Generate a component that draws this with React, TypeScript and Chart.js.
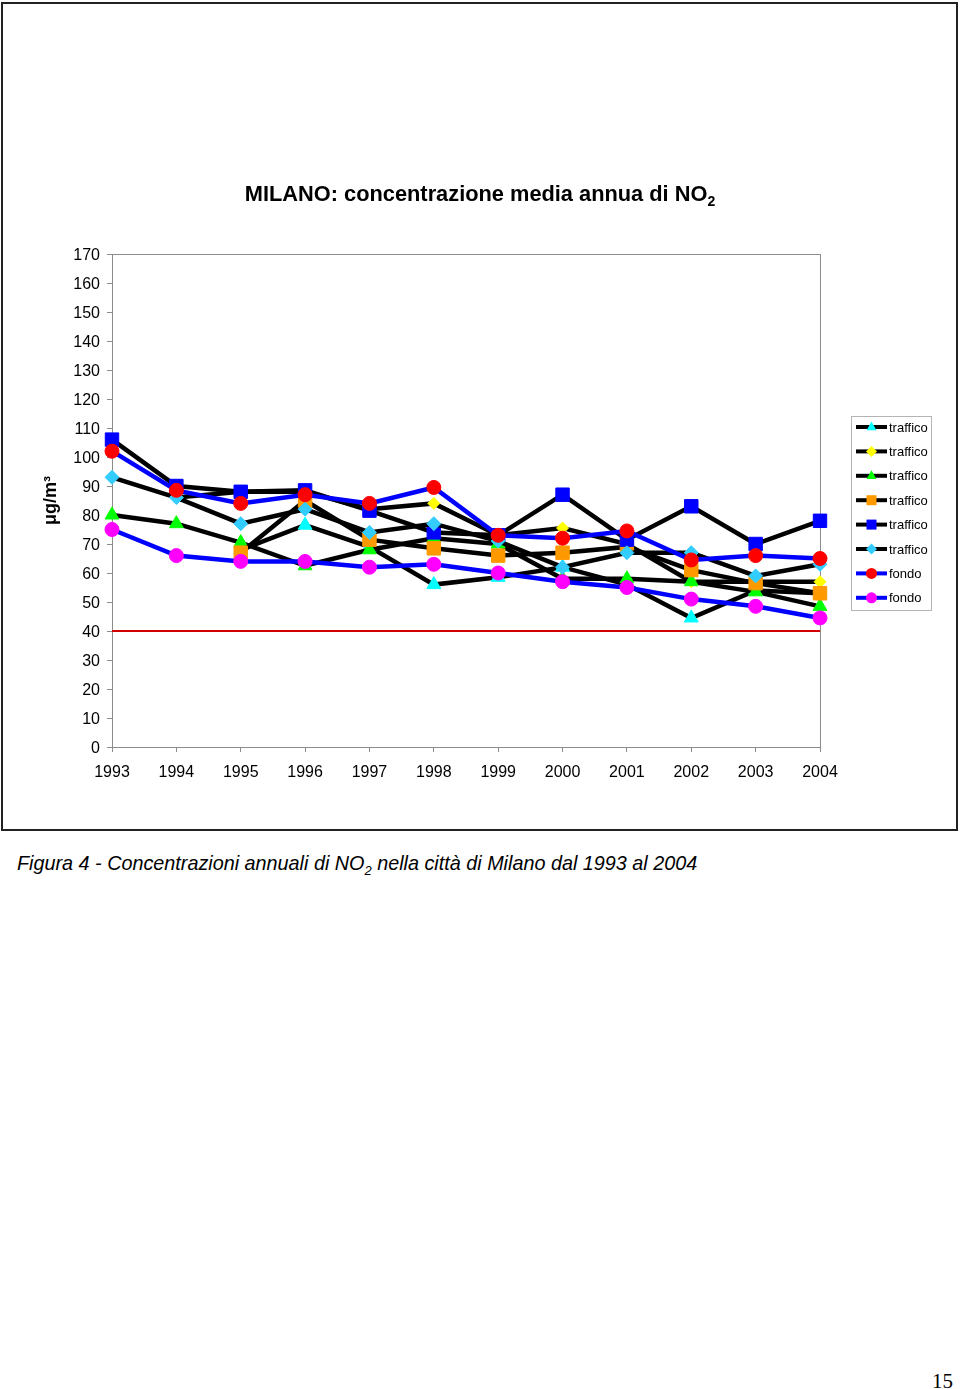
import React, { useEffect, useRef } from 'react';
import { Chart, registerables } from 'chart.js';

Chart.register(...registerables);

const years = ['1993', '1994', '1995', '1996', '1997', '1998', '1999', '2000', '2001', '2002', '2003', '2004'];

const trafficoCyanTriangle = [null, null, 68, 76.5, 69, 56, 58.5, 62, 56, 44.5, 54, 53];
const trafficoYellow = [null, 86, 88, 88, 82, 84, 73, 75.5, 70, 57, 57, 57];
const trafficoGreen = [80, 77, 70.5, 62.5, 68, 72, 70, 58, 58, 57, 53.5, 48.5];
const trafficoOrange = [null, null, 67, 85, 71.5, 68.5, 66, 67, 69, 61, 56.5, 53];
const trafficoBlue = [106, 90, 88, 88.5, 81.5, 74, 73, 87, 71.5, 83, 70, 78];
const trafficoSky = [93, 86, 77, 82, 74, 77, 71, 62, 67, 67, 59, 63];
const fondoRed = [102, 88.5, 84, 87, 84, 89.5, 73, 72, 74.5, 64.5, 66, 65];
const fondoMagenta = [75, 66, 64, 64, 62, 63, 60, 57, 55, 51, 48.5, 44.5];
const limitLine = [40, 40, 40, 40, 40, 40, 40, 40, 40, 40, 40, 40];

const seriesLabels = ['traffico', 'traffico', 'traffico', 'traffico', 'traffico', 'traffico', 'fondo', 'fondo'];

const FONT = '"Liberation Sans", Arial, sans-serif';

function markerPath(ctx: CanvasRenderingContext2D, style: string, x: number, y: number, r: number) {
  ctx.beginPath();
  if (style === 'circle') {
    ctx.arc(x, y, r, 0, Math.PI * 2);
  } else if (style === 'rect') {
    ctx.rect(x - r, y - r, 2 * r, 2 * r);
  } else if (style === 'rectRot') {
    ctx.moveTo(x, y - r);
    ctx.lineTo(x + r, y);
    ctx.lineTo(x, y + r);
    ctx.lineTo(x - r, y);
    ctx.closePath();
  } else if (style === 'triangle') {
    ctx.moveTo(x, y - r);
    ctx.lineTo(x + r * 0.9, y + r * 0.6);
    ctx.lineTo(x - r * 0.9, y + r * 0.6);
    ctx.closePath();
  }
}

const plotBorderPlugin = {
  id: 'plotBorder',
  beforeDatasetsDraw(chart: any) {
    const { ctx, chartArea } = chart;
    ctx.save();
    ctx.strokeStyle = '#8c8c8c';
    ctx.lineWidth = 1;
    ctx.strokeRect(chartArea.left + 0.5, chartArea.top + 0.5, chartArea.right - chartArea.left, chartArea.bottom - chartArea.top);
    ctx.restore();
  },
};

const excelLegendPlugin = {
  id: 'excelLegend',
  afterDraw(chart: any) {
    const { ctx, chartArea } = chart;
    const bx = chartArea.right + 31;
    const by = chartArea.top + 162;
    const bw = 80;
    const bh = 194;
    const step = 24.4;
    ctx.save();
    ctx.fillStyle = '#ffffff';
    ctx.fillRect(bx, by, bw, bh);
    ctx.strokeStyle = '#b4b4b4';
    ctx.lineWidth = 1;
    ctx.strokeRect(bx + 0.5, by + 0.5, bw, bh);
    let row = 0;
    chart.data.datasets.forEach((ds: any) => {
      if (ds.hideInLegend) return;
      const cy = by + 11 + row * step;
      row += 1;
      ctx.strokeStyle = ds.borderColor;
      ctx.lineWidth = 4;
      ctx.lineCap = 'butt';
      ctx.beginPath();
      ctx.moveTo(bx + 5, cy);
      ctx.lineTo(bx + 36, cy);
      ctx.stroke();
      ctx.fillStyle = ds.pointBackgroundColor;
      markerPath(ctx, ds.pointStyle, bx + 20.5, cy, ds.pointStyle === 'rect' ? 5 : 5.5);
      ctx.fill();
      ctx.fillStyle = '#000';
      ctx.font = `13px ${FONT}`;
      ctx.textBaseline = 'middle';
      ctx.textAlign = 'left';
      ctx.fillText(ds.label, bx + 38, cy + 1);
    });
    ctx.restore();
  },
};

function makeSeries(label: string, data: (number | null)[], line: string, marker: string, style: string, radius: number, order: number) {
  return {
    label,
    data,
    borderColor: line,
    backgroundColor: marker,
    pointBackgroundColor: marker,
    pointBorderColor: marker,
    pointBorderWidth: 1,
    pointStyle: style,
    pointRadius: radius,
    borderWidth: 4.5,
    tension: 0,
    spanGaps: false,
    order,
  };
}

function App() {
  const canvasRef = useRef<HTMLCanvasElement | null>(null);

  useEffect(() => {
    document.body.style.margin = '0';
    const canvas = canvasRef.current;
    if (!canvas) return;
    const chart = new Chart(canvas, {
      type: 'line',
      data: {
        labels: years,
        datasets: [
          makeSeries(seriesLabels[0], trafficoCyanTriangle, '#000000', '#00FFFF', 'triangle', 8, 8),
          makeSeries(seriesLabels[1], trafficoYellow, '#000000', '#FFFF00', 'rectRot', 6, 7),
          makeSeries(seriesLabels[2], trafficoGreen, '#000000', '#00FF00', 'triangle', 8, 6),
          makeSeries(seriesLabels[3], trafficoOrange, '#000000', '#FF9900', 'rect', 9.5, 5),
          makeSeries(seriesLabels[4], trafficoBlue, '#000000', '#0000FF', 'rect', 9.5, 4),
          makeSeries(seriesLabels[5], trafficoSky, '#000000', '#33CCFF', 'rectRot', 7, 3),
          makeSeries(seriesLabels[6], fondoRed, '#0000FF', '#FF0000', 'circle', 7, 2),
          makeSeries(seriesLabels[7], fondoMagenta, '#0000FF', '#FF00FF', 'circle', 7, 1),
          {
            label: 'limite',
            data: limitLine,
            borderColor: '#D00000',
            borderWidth: 2,
            pointRadius: 0,
            order: 20,
            hideInLegend: true,
          } as any,
        ],
      },
      options: {
        animation: false,
        responsive: false,
        maintainAspectRatio: false,
        layout: { padding: { left: 40, top: 254, right: 140, bottom: 43 } },
        plugins: {
          legend: { display: false },
          title: { display: false },
          tooltip: { enabled: false },
        },
        scales: {
          x: {
            type: 'category',
            offset: false,
            afterFit: (scale: any) => { scale.height = 40; },
            grid: { display: true, drawOnChartArea: false, drawTicks: true, tickLength: 5, color: '#8c8c8c' },
            border: { display: true, color: '#8c8c8c', width: 1 },
            ticks: { color: '#000', font: { family: FONT, size: 16 }, padding: 11, maxRotation: 0, autoSkip: false },
          },
          y: {
            min: 0,
            max: 170,
            afterFit: (scale: any) => { scale.width = 72; },
            grid: { display: true, drawOnChartArea: false, drawTicks: true, tickLength: 5, color: '#8c8c8c' },
            border: { display: true, color: '#8c8c8c', width: 1 },
            ticks: { stepSize: 10, color: '#000', font: { family: FONT, size: 16 }, padding: 7, labelOffset: 2 },
            title: { display: true, text: 'μg/m³', color: '#000', font: { family: FONT, size: 18, weight: 'bold' }, padding: 0 },
          },
        },
      },
      plugins: [plotBorderPlugin, excelLegendPlugin],
    } as any);
    return () => chart.destroy();
  }, []);

  return (
    <div style={{ position: 'relative', width: 960, height: 1389, background: '#fff', fontFamily: FONT, overflow: 'hidden' }}>
      <div style={{ position: 'absolute', left: 1, top: 2, width: 953, height: 825, border: '2px solid #222' }} />
      <canvas ref={canvasRef} width={960} height={830} style={{ position: 'absolute', left: 0, top: 0, width: 960, height: 830 }} />
      <div style={{ position: 'absolute', left: 0, top: 182, width: 960, textAlign: 'center', fontWeight: 'bold', fontSize: 21.8, lineHeight: '24px', color: '#000' }}>
        MILANO: concentrazione media annua di NO<sub style={{ fontSize: 14 }}>2</sub>
      </div>
      <div style={{ position: 'absolute', left: 17, top: 851, fontStyle: 'italic', fontSize: 19.8, lineHeight: '24px', color: '#000', whiteSpace: 'nowrap' }}>
        Figura 4 - Concentrazioni annuali di NO<sub style={{ fontSize: 13 }}>2</sub> nella città di Milano dal 1993 al 2004
      </div>
      <div style={{ position: 'absolute', left: 932, top: 1369, fontFamily: '"Liberation Serif", "Times New Roman", serif', fontSize: 21, color: '#000' }}>
        15
      </div>
    </div>
  );
}

export default App;
